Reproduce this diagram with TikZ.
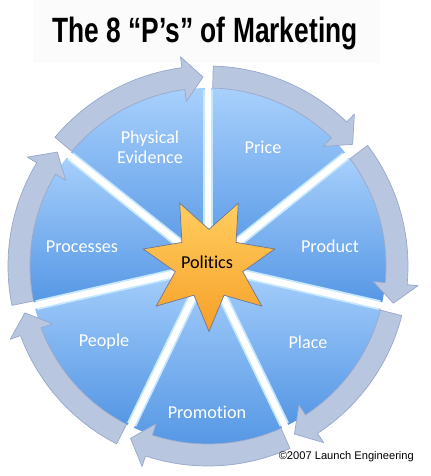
\documentclass[tikz,border=0pt]{standalone}
\usepackage{fontspec}
\setmainfont{Carlito}[Ligatures=NoCommon]
\newfontfamily\titlefont{Liberation Sans}
\newfontfamily\notefont{Liberation Sans}
\usetikzlibrary{shapes.geometric}
\definecolor{sliceLight}{RGB}{168,208,252}
\definecolor{sliceDark}{RGB}{84,150,228}
\definecolor{ringFill}{RGB}{184,198,224}
\definecolor{ringEdge}{RGB}{150,168,204}
\definecolor{gapEdge}{RGB}{196,232,255}
\definecolor{starLight}{RGB}{255,205,95}
\definecolor{starDark}{RGB}{247,160,40}
\definecolor{starEdge}{RGB}{110,120,150}
\tikzset{
	slicelabel/.style={text=white, font=\fontsize{15.5}{17}\selectfont, align=center},
	ringarrow/.style={fill=ringFill, draw=ringEdge, line width=0.6pt, line join=round},
	politicsstar/.style={star, star points=7, star point ratio=1.95, shape border rotate=180, minimum size=4.05cm, inner sep=0pt, draw=starEdge, line width=0.6pt, top color=starLight, bottom color=starDark}
}
\begin{document}
\begin{tikzpicture}[x=0.03cm, y=0.03cm]
		\useasboundingbox (-208,-210) rectangle (223,266);
		\fill[white] (-208,-210) rectangle (223,266);
		\fill[black!1.5] (-175,203) rectangle (172,266);
		\foreach \i in {0,...,6}{
			\pgfmathsetmacro\a{90-\i*360/7}
			\pgfmathsetmacro\b{\a-360/7}
			\shade[top color=sliceLight, bottom color=sliceDark] (0,0) -- (\a:178) arc[start angle=\a, end angle=\b, radius=178] -- cycle;
		}
		\foreach \i in {0,...,6}{
			\draw[gapEdge, line width=8.5pt] (0,0) -- ({90-\i*360/7}:176);
			\draw[white, line width=5.5pt] (0,0) -- ({90-\i*360/7}:182);
		}
		\foreach \i in {0,...,6}{
			\pgfmathsetmacro\s{90-\i*360/7-1.5}
			\pgfmathsetmacro\t{90-(\i+1)*360/7+1.5}
			\pgfmathsetmacro\h{\t+6}
			\draw[ringarrow] (\s:200) arc[start angle=\s, end angle=\h, radius=200] -- (\h:211) -- (\t:189) -- (\h:166) -- (\h:178) arc[start angle=\h, end angle=\s, radius=178] -- cycle;
		}
		\node[politicsstar] (star) at (1,2) {};
		\node[font=\fontsize{15.5}{17}\selectfont] (politics) at (-1,4) {Politics};
		\node[slicelabel] (price) at (55,119) {Price};
		\node[slicelabel] (product) at (122,20) {Product};
		\node[slicelabel] (place) at (100,-76) {Place};
		\node[slicelabel] (promotion) at (-1,-146) {Promotion};
		\node[slicelabel] (people) at (-104,-76) {People};
		\node[slicelabel] (processes) at (-126,19) {Processes};
		\node[slicelabel] (physical) at (-58,119) {Physical\\Evidence};
		\node[anchor=base, font=\titlefont\bfseries\fontsize{30}{34}\selectfont] (title) at (-3,223) {\scalebox{0.75}[1]{The 8 “P’s” of Marketing}};
		\node[anchor=base east, font=\notefont\fontsize{9.5}{11}\selectfont] (copyright) at (210,-193) {©2007 Launch Engineering};
\end{tikzpicture}
\end{document}
